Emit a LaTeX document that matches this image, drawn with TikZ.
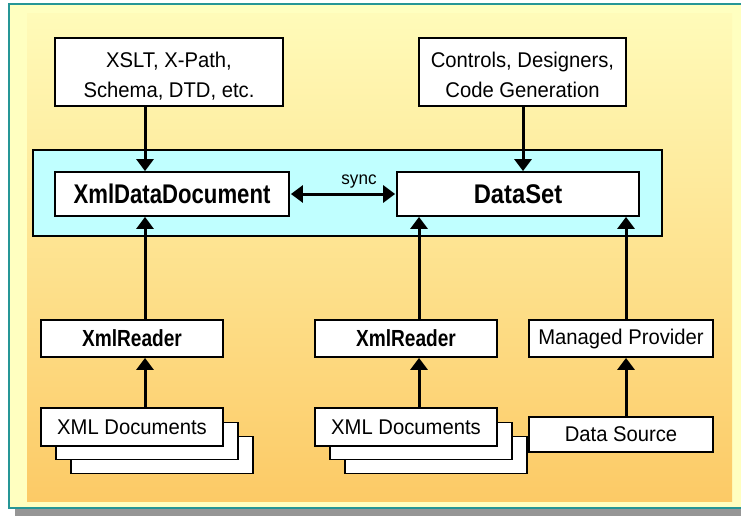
\documentclass[tikz,border=0pt]{standalone}
\usepackage{fontspec}
\setmainfont{Liberation Sans}[FakeStretch=0.95]
\newfontfamily\condB{Liberation Sans}[FakeStretch=0.82]
\newfontfamily\semiB{Liberation Sans}[FakeStretch=0.88]
\usetikzlibrary{arrows.meta}
\definecolor{frameteal}{RGB}{38,150,150}
\definecolor{framefill}{RGB}{255,255,192}
\definecolor{gradtop}{RGB}{255,251,185}
\definecolor{gradbot}{RGB}{252,202,102}
\definecolor{corecyan}{RGB}{192,255,255}
\definecolor{shadowgray}{RGB}{150,150,150}
% two centred lines, set slightly low in their box
\newcommand{\twolines}[2]{\raisebox{-5pt}[\height][\depth]{\begin{tabular}{@{}c@{}}#1\\#2\end{tabular}}}
\tikzset{
  box/.style={draw=black, line width=1.8pt, fill=white, inner sep=0pt,
    align=center, font=\fontsize{21.3}{30}\selectfont},
  boldbox/.style={box, font=\condB\fontsize{23.3}{26}\selectfont\bfseries},
  flow/.style={line width=3pt, -{Triangle[width=17pt,length=12pt]}},
  both/.style={line width=3pt, {Triangle[width=17pt,length=12pt]}-{Triangle[width=17pt,length=12pt]}},
}
\begin{document}
\begin{tikzpicture}[x=1pt,y=-1pt]
\useasboundingbox (0,0) rectangle (741,516);
% frame, shadow and graded panel
\fill[shadowgray] (15,509) rectangle (745,520);
\draw[frameteal, line width=2pt, fill=framefill] (9,4) rectangle (748,508);
\shade[top color=gradtop, bottom color=gradbot] (27,14) rectangle (732,501);
% cyan band holding the two central classes
\node[draw=black, line width=1.2pt, fill=corecyan, minimum width=629pt,
  minimum height=86pt, inner sep=0pt] (core) at (347.5,193) {};
% top tools
\node[box, minimum width=228pt, minimum height=68pt] (xslt) at (169,72)
  {\twolines{XSLT, X-Path,}{Schema, DTD, etc.}};
\node[box, minimum width=207pt, minimum height=68pt] (ctrl) at (522.5,72)
  {\twolines{Controls, Designers,}{Code Generation}};
% central classes
\node[box, minimum width=234pt, minimum height=44pt,
  font=\condB\fontsize{27}{30}\selectfont\bfseries] (xdd) at (172,194) {XmlDataDocument};
\node[box, minimum width=242pt, minimum height=44pt,
  font=\semiB\fontsize{27}{30}\selectfont\bfseries] (ds) at (518,194) {DataSet};
% readers and provider
\node[boldbox, minimum width=182pt, minimum height=37pt] (rdrL) at (132,338.5) {XmlReader};
\node[boldbox, minimum width=182pt, minimum height=37pt] (rdrR) at (406,338.5) {XmlReader};
\node[box, minimum width=184pt, minimum height=37pt] (mp) at (621,338.5) {Managed Provider};
% document stacks (back to front)
\node[box, minimum width=182pt, minimum height=37pt] (docL3) at (162,455) {};
\node[box, minimum width=182pt, minimum height=37pt] (docL2) at (147,441) {};
\node[box, minimum width=182pt, minimum height=38pt] (docL) at (132,427) {XML Documents};
\node[box, minimum width=182pt, minimum height=37pt] (docR3) at (436,455) {};
\node[box, minimum width=182pt, minimum height=37pt] (docR2) at (421,441) {};
\node[box, minimum width=182pt, minimum height=38pt] (docR) at (406,427) {XML Documents};
\node[box, minimum width=184pt, minimum height=35pt] (dsrc) at (621,434.5) {Data Source};
% arrow columns
\coordinate (colA) at (145,0);
\coordinate (colB) at (419,0);
\coordinate (colC) at (626,0);
\coordinate (colD) at (523,0);
% connectors
\draw[flow] (xslt.south -| colA) -- (xdd.north -| colA);
\draw[flow] (ctrl.south -| colD) -- (ds.north -| colD);
\draw[flow] (rdrL.north -| colA) -- (xdd.south -| colA);
\draw[flow] (docL.north -| colA) -- (rdrL.south -| colA);
\draw[flow] (rdrR.north -| colB) -- (ds.south -| colB);
\draw[flow] (docR.north -| colB) -- (rdrR.south -| colB);
\draw[flow] (mp.north -| colC) -- (ds.south -| colC);
\draw[flow] (dsrc.north -| colC) -- (mp.south -| colC);
\draw[both] ([xshift=1pt]xdd.east) -- ([xshift=-1pt]ds.west)
  node[midway, above=1pt, xshift=16pt, font=\fontsize{18}{20}\selectfont] (synclbl) {sync};
\end{tikzpicture}
\end{document}
